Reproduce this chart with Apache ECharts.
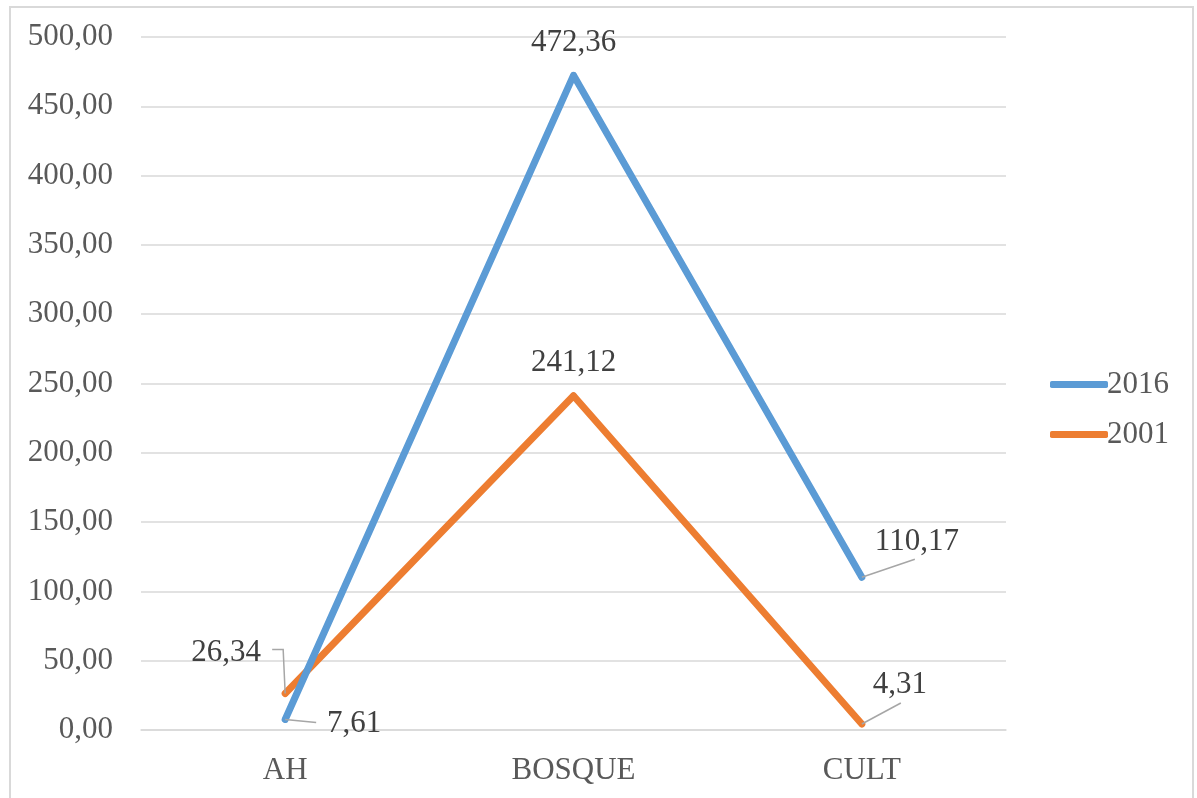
<!DOCTYPE html>
<html>
<head>
<meta charset="utf-8">
<script src="https://cdn.jsdelivr.net/npm/echarts@6/dist/echarts.min.js"></script>
<style>
  html, body { margin: 0; padding: 0; background: #fff; }
  #frame { position: absolute; left: 9px; top: 6px; width: 1185px; height: 800px; border: 2px solid #d9d9d9; box-sizing: border-box; }
  #chart { position: absolute; left: 0; top: 0; width: 1197px; height: 798px; }
</style>
</head>
<body>
<div id="frame"></div>
<div id="chart"></div>
<script>
// Land-cover classes and area per year
const categories = ['AH', 'BOSQUE', 'CULT'];
const values2016 = [7.61, 472.36, 110.17];
const values2001 = [26.34, 241.12, 4.31];
const seriesNames = ['2016', '2001'];

const FONT = "'Liberation Serif', 'Times New Roman', serif";

// Label offsets (dx, dy) from the default 'top' placement, per series/point
const labelShift = [
  [[69, 27], [0, -9], [55, -12]],
  [[-59, -18], [0, -10], [38, -16]]
];

// Leader-line bend points relative to each data point (null = no leader)
const leaderPath = [
  [[[31, 3]], null, [[53, -18]]],
  [[[-2, -44], [-13, -44]], null, [[39, -21]]]
];

const fmt = v => v.toFixed(2).replace('.', ',');

const chart = echarts.init(document.getElementById('chart'), null, { renderer: 'canvas' });

function makeSeries(name, data, color, idx) {
  return {
    name: name,
    type: 'line',
    data: data,
    symbol: 'circle',
    symbolSize: 6,
    showSymbol: true,
    z: idx === 0 ? 3 : 2,
    lineStyle: { color: color, width: 7, cap: 'round', join: 'round' },
    itemStyle: { color: color, borderWidth: 0 },
    label: {
      show: true,
      position: 'top',
      distance: 5,
      fontFamily: FONT,
      fontSize: 31,
      lineHeight: 30,
      color: '#404040',
      formatter: p => fmt(p.value)
    },
    labelLine: { show: false },
    labelLayout: p => ({ dx: labelShift[idx][p.dataIndex][0], dy: labelShift[idx][p.dataIndex][1] })
  };
}

const seriesData = [values2016, values2001];

chart.setOption({
  animation: false,
  grid: { left: 141, right: 191, top: 37, bottom: 68 },
  legend: {
    orient: 'vertical',
    left: 1045,
    top: 364,
    itemGap: 19,
    itemWidth: 58,
    itemHeight: 7,
    icon: 'roundRect',
    textStyle: { fontFamily: FONT, fontSize: 31, color: '#595959', padding: [0, 0, 0, -6] },
    data: seriesNames
  },
  xAxis: {
    type: 'category',
    data: categories,
    boundaryGap: true,
    axisLine: { show: true, lineStyle: { color: '#d9d9d9', width: 1.5 } },
    axisTick: { show: false },
    axisLabel: { fontFamily: FONT, fontSize: 31, color: '#595959', margin: 25 }
  },
  yAxis: {
    type: 'value',
    min: 0,
    max: 500,
    interval: 50,
    axisLine: { show: false },
    axisTick: { show: false },
    splitLine: { lineStyle: { color: '#d9d9d9', width: 1.5 } },
    axisLabel: { fontFamily: FONT, fontSize: 31, color: '#595959', margin: 28, formatter: v => fmt(v) }
  },
  series: [
    makeSeries(seriesNames[0], values2016, '#5b9bd5', 0),
    makeSeries(seriesNames[1], values2001, '#ed7d31', 1)
  ]
});

// Leader lines from each point towards its moved label, anchored through the axes
const leaders = [];
seriesData.forEach((vals, s) => {
  vals.forEach((v, i) => {
    const path = leaderPath[s][i];
    if (!path) return;
    const p = chart.convertToPixel({ seriesIndex: s }, [i, v]);
    const pts = [p].concat(path.map(o => [p[0] + o[0], p[1] + o[1]]));
    leaders.push({
      type: 'polyline',
      z: 10,
      shape: { points: pts },
      style: { stroke: '#a6a6a6', lineWidth: 1.5, fill: null }
    });
  });
});
chart.setOption({ graphic: leaders });
</script>
</body>
</html>
